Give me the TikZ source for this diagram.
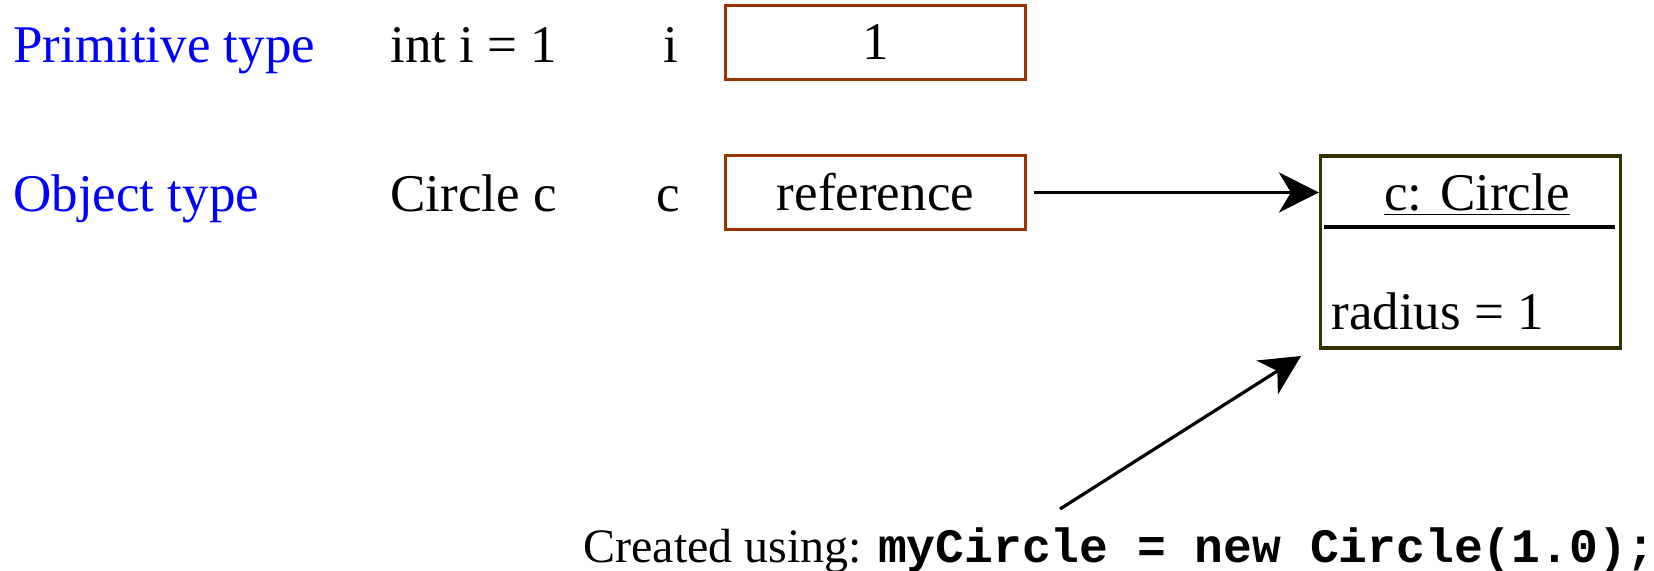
\documentclass[tikz,border=0pt]{standalone}
\usepackage{fontspec}
\setmainfont{Liberation Serif}
\setmonofont{Liberation Mono}
\usetikzlibrary{arrows.meta}
\definecolor{refred}{RGB}{153,51,0}
\definecolor{objolive}{RGB}{51,51,0}

\begin{document}
\begin{tikzpicture}[
  x=0.5pt, y=-0.5pt,
  font=\fontsize{26.5}{30}\selectfont,
  lbl/.style={inner sep=0pt,anchor=base west},
  kind/.style={lbl,text=blue},
  vbox/.style={draw=refred,line width=1.6pt,minimum width=150pt,minimum height=37pt,inner sep=0pt},
  obox/.style={draw=objolive,line width=1.6pt,minimum width=150pt,minimum height=96pt,inner sep=0pt},
  arr/.style={line width=1.6pt,-{Stealth[length=20pt,width=20pt,inset=6pt]}}
]
  \useasboundingbox (0,0) rectangle (1654,571);

  % kinds of type
  \node[kind] (prim) at (13,63) {Primitive type};
  \node[kind] (objt) at (13,212) {Object type};

  % declarations
  \node[lbl] (decli) at (390,63) {int i = 1};
  \node[lbl] (declc) at (390,212) {Circle c};
  \node[inner sep=0pt,anchor=base] (vari) at (671,63) {i};
  \node[inner sep=0pt,anchor=base] (varc) at (668,212) {c};

  % variable boxes
  \node[vbox] (val) at (875.5,42.5) {1};
  \node[vbox] (ref) at (875.5,192.5) {reference};

  % object
  \node[obox] (obj) at (1470.5,252) {};
  \node[inner sep=0pt,anchor=base] (oname) at (1477,211) {\underline{c: Circle}};
  \draw[line width=1.6pt] (1324,227) -- (1615,227);
  \node[lbl] (orad) at (1331,330) {radius = 1};

  % note
  \node[lbl,font=\fontsize{24}{28}\selectfont] (note) at (583,562)
    {Created using: \texttt{\bfseries myCircle = new Circle(1.0);}};
  \coordinate (ntail) at (1060,509);
  \coordinate (otip) at (1301,356);

  % arrows
  \draw[arr,shorten <=3.5pt] (ref) -- (obj.west |- ref);
  \draw[arr] (ntail) -- (otip);

\end{tikzpicture}
\end{document}
